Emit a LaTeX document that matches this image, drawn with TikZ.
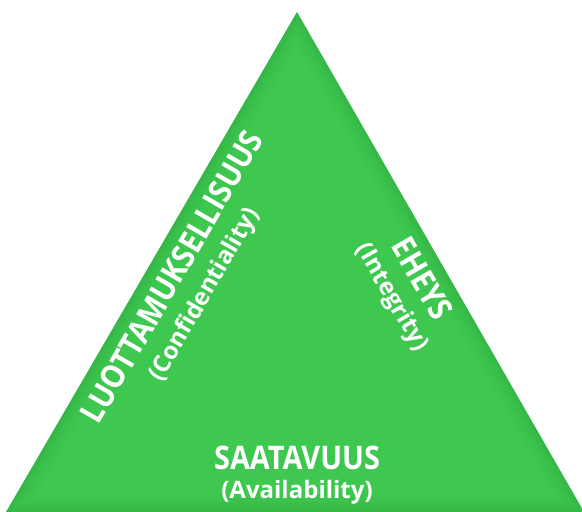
\documentclass[tikz,border=0pt]{standalone}
\usepackage{fontspec}
\newfontfamily\mainlab[FakeStretch=0.89]{Open Sans}
\newfontfamily\sublab{Open Sans}
\definecolor{trigreen}{RGB}{62,200,80}
\definecolor{edgegreen}{RGB}{40,150,55}
\begin{document}
\begin{tikzpicture}[x=1pt,y=-1pt,
  mainlabel/.style={text=white,font=\mainlab\bfseries\fontsize{32.5}{32.5}\selectfont,inner sep=0pt},
  sublabel/.style={text=white,font=\sublab\bfseries\fontsize{24}{24}\selectfont,inner sep=0pt}]
\useasboundingbox (0,0) rectangle (582,512);
\coordinate (apex) at (297,12);
\coordinate (bl) at (6,512);
\coordinate (br) at (584,512);
\fill[trigreen] (bl) -- (apex) -- (br) -- cycle;
\begin{scope}
  \clip (bl) -- (apex) -- (br) -- cycle;
  \foreach \w/\o in {36/0.04,28/0.05,20/0.06,12/0.08,6/0.1}
    \draw[edgegreen,line width=\w pt,opacity=\o,line join=miter] (bl) -- (apex) -- (br) -- cycle;
\end{scope}
\node[mainlabel,rotate=60] (conf) at (171.5,276.5) {LUOTTAMUKSELLISUUS};
\node[sublabel,rotate=60] (confsub) at (205,295) {(Confidentiality)};
\node[mainlabel,rotate=-60] (integ) at (422.5,278.5) {EHEYS};
\node[sublabel,rotate=-60] (integsub) at (391.5,297.5) {(Integrity)};
\node[mainlabel] (avail) at (297,458) {SAATAVUUS};
\node[sublabel] (availsub) at (297,492) {(Availability)};
\end{tikzpicture}
\end{document}
